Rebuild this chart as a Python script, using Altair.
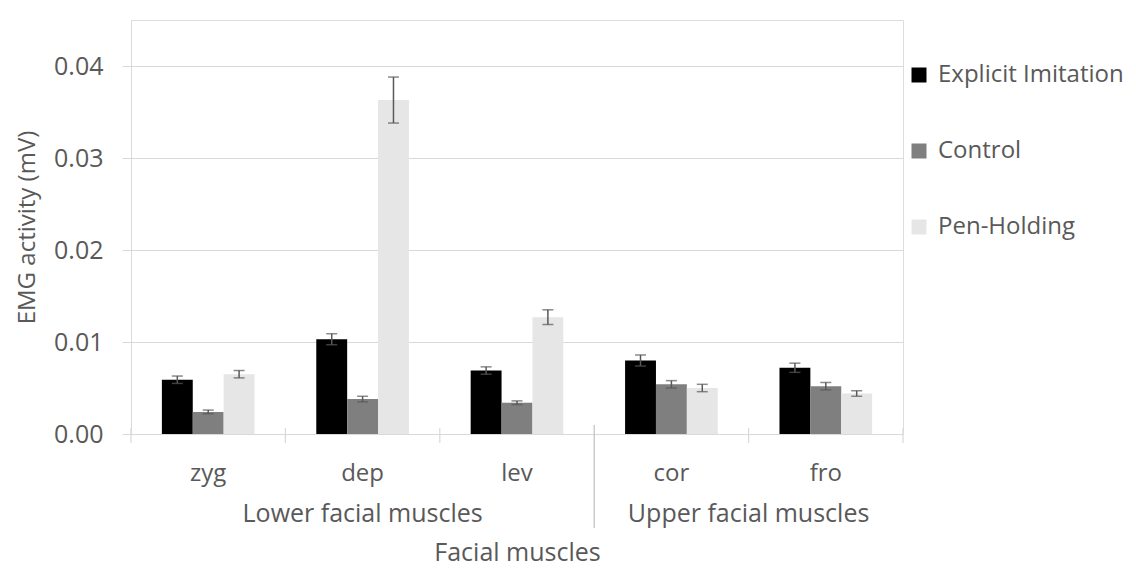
import altair as alt
import pandas as pd

muscles = ["zyg", "dep", "lev", "cor", "fro"]
conditions = ["Explicit Imitation", "Control", "Pen-Holding"]
colors = ["#000000", "#7f7f7f", "#e6e6e6"]

explicit = [0.0059, 0.0103, 0.0069, 0.0080, 0.0072]
explicit_err = [0.0004, 0.0006, 0.0004, 0.0006, 0.0005]
control = [0.0024, 0.0038, 0.0034, 0.0054, 0.0052]
control_err = [0.0002, 0.0003, 0.0002, 0.0004, 0.0004]
pen = [0.0065, 0.0363, 0.0127, 0.0050, 0.0044]
pen_err = [0.0004, 0.0025, 0.0008, 0.0004, 0.0003]

group_names = ["Lower facial muscles", "Upper facial muscles"]
group_members = [["zyg", "dep", "lev"], ["cor", "fro"]]

y_ticks = [0.0, 0.01, 0.02, 0.03, 0.04]
y_max = 0.045

rows = []
for cond, vals, errs in [(conditions[0], explicit, explicit_err),
                         (conditions[1], control, control_err),
                         (conditions[2], pen, pen_err)]:
    for m, v, e in zip(muscles, vals, errs):
        rows.append({"muscle": m, "condition": cond, "value": v,
                     "lo": v - e, "hi": v + e})
df = pd.DataFrame(rows)

W, H = 772, 414
FONT = "Open Sans"
TXT = "#595959"
GRID = "#d9d9d9"
YT = "EMG activity (mV)"

xscale = alt.Scale(domain=muscles, paddingInner=0, paddingOuter=0)
xo = alt.XOffset("condition:N", sort=conditions,
                 scale=alt.Scale(paddingInner=0, paddingOuter=1))
yscale = alt.Scale(domain=[0, y_max], nice=False, zero=True)

x_main = alt.X("muscle:N", scale=xscale, sort=muscles,
               axis=alt.Axis(title="Facial muscles", ticks=False, tickSize=0,
                             labelAngle=0, labelFontSize=24, labelColor=TXT,
                             labelFont=FONT, labelPadding=27,
                             titleFontSize=25, titleColor=TXT, titleFont=FONT,
                             titleFontWeight="normal", titlePadding=55,
                             domainColor=GRID, domainWidth=1.2, grid=False))

bars = alt.Chart(df).mark_bar().encode(
    x=x_main,
    xOffset=xo,
    y=alt.Y("value:Q", scale=yscale, title=YT,
            axis=alt.Axis(values=y_ticks, format=".2f", tickSize=9,
                          tickColor=GRID, domainColor=GRID, gridColor=GRID,
                          gridWidth=1.2, labelFontSize=25, labelColor=TXT,
                          labelFont=FONT, labelPadding=19, titleFontSize=24,
                          titleColor=TXT, titleFont=FONT,
                          titleFontWeight="normal", titlePadding=14)),
    color=alt.Color("condition:N", sort=conditions,
                    scale=alt.Scale(domain=conditions, range=colors),
                    legend=alt.Legend(title=None, orient="none", legendX=776,
                                      legendY=43, symbolType="square",
                                      symbolSize=225, symbolStrokeWidth=0,
                                      labelFontSize=24, labelColor=TXT,
                                      labelFont=FONT, labelOffset=7,
                                      labelLimit=400,
                                      rowPadding=52, padding=0)),
)

err = alt.Chart(df).mark_rule(color="#595959", strokeWidth=1.5).encode(
    x=alt.X("muscle:N", scale=xscale, sort=muscles),
    xOffset=xo,
    y=alt.Y("lo:Q", scale=yscale, title=YT),
    y2="hi:Q",
)
cap_lo = alt.Chart(df).mark_tick(color="#595959", thickness=1.5, size=11).encode(
    x=alt.X("muscle:N", scale=xscale, sort=muscles),
    xOffset=xo,
    y=alt.Y("lo:Q", scale=yscale, title=YT),
)
cap_hi = alt.Chart(df).mark_tick(color="#595959", thickness=1.5, size=11).encode(
    x=alt.X("muscle:N", scale=xscale, sort=muscles),
    xOffset=xo,
    y=alt.Y("hi:Q", scale=yscale, title=YT),
)

# category boundary ticks
first_of_groups = [g[0] for g in group_members]
short_ticks = pd.DataFrame({"muscle": [m for m in muscles if m not in first_of_groups[1:]]})
sep_ticks = pd.DataFrame({"muscle": first_of_groups[1:]})
end_ticks = pd.DataFrame({"muscle": [muscles[-1]]})

tick_short = alt.Chart(short_ticks).mark_rule(color=GRID, strokeWidth=1.2).encode(
    x=alt.X("muscle:N", scale=xscale, sort=muscles, bandPosition=0),
    y=alt.value(H - 6), y2=alt.value(H + 9))
tick_end = alt.Chart(end_ticks).mark_rule(color=GRID, strokeWidth=1.2).encode(
    x=alt.X("muscle:N", scale=xscale, sort=muscles, bandPosition=1),
    y=alt.value(H - 6), y2=alt.value(H + 9))
tick_sep = alt.Chart(sep_ticks).mark_rule(color="#bfbfbf", strokeWidth=1.2).encode(
    x=alt.X("muscle:N", scale=xscale, sort=muscles, bandPosition=0),
    y=alt.value(H - 9), y2=alt.value(H + 94))

# group labels: lower centred on its middle muscle, upper on the boundary
lower_df = pd.DataFrame({"muscle": [group_members[0][1]], "label": [group_names[0]]})
upper_df = pd.DataFrame({"muscle": [group_members[1][1]], "label": [group_names[1]]})
lower_txt = alt.Chart(lower_df).mark_text(fontSize=25, font=FONT, color=TXT,
                                          baseline="alphabetic").encode(
    x=alt.X("muscle:N", scale=xscale, sort=muscles, bandPosition=0.5),
    y=alt.value(H + 88), text="label:N")
upper_txt = alt.Chart(upper_df).mark_text(fontSize=25, font=FONT, color=TXT,
                                          baseline="alphabetic").encode(
    x=alt.X("muscle:N", scale=xscale, sort=muscles, bandPosition=0),
    y=alt.value(H + 88), text="label:N")

chart = alt.layer(bars, err, cap_lo, cap_hi, tick_short, tick_end, tick_sep,
                  lower_txt, upper_txt).properties(
    width=W, height=H,
    autosize=alt.AutoSizeParams(type="none"),
    padding={"left": 123, "top": 12, "right": 225, "bottom": 140},
).configure_view(stroke=None).configure(background="white")

chart.save("out.html", embed_options={"renderer": "svg", "actions": False})
